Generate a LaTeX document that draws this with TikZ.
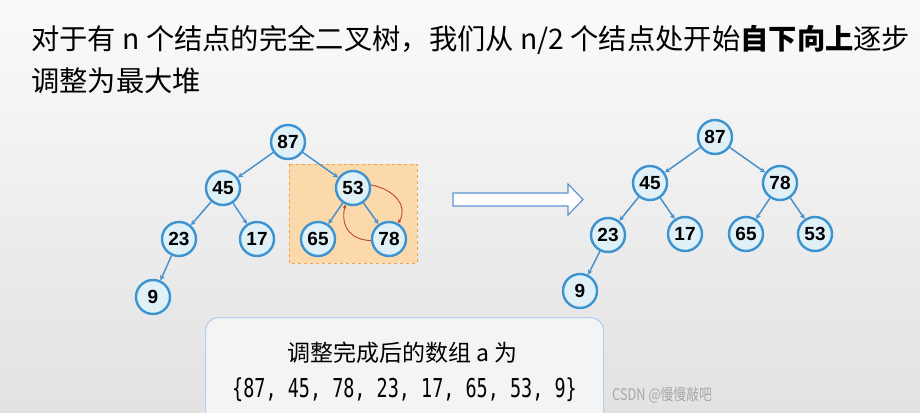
\documentclass[tikz,border=0pt]{standalone}
\usepackage{fontspec}
\usepackage{graphicx}
\setmainfont{Liberation Sans}
\newfontfamily\cjk{Noto Sans CJK SC}
\newfontfamily\monof{DejaVu Sans Mono}
\usetikzlibrary{arrows.meta}
\definecolor{nodeblue}{HTML}{3D93CF}
\definecolor{nodefill}{HTML}{DFF1F7}
\definecolor{edgeblue}{HTML}{4A92CC}
\definecolor{swapred}{HTML}{B8433A}
\definecolor{hlfill}{HTML}{FCD9AA}
\definecolor{hldraw}{HTML}{F0A448}
\definecolor{boxfill}{HTML}{F4F4F4}
\definecolor{boxdraw}{HTML}{B5D0EE}
\definecolor{arrowdraw}{HTML}{5F93D2}
\definecolor{bgtop}{HTML}{FAFAFA}
\definecolor{bgbot}{HTML}{E2E2E2}
\definecolor{wmgray}{HTML}{A8A8A8}
\begin{document}
\begin{tikzpicture}[x=1pt,y=-1pt,
  tnode/.style={circle,draw=nodeblue,fill=nodefill,line width=2.4pt,minimum size=34pt,inner sep=0pt,font=\fontsize{19}{19}\selectfont\bfseries},
  tedge/.style={draw=edgeblue,line width=1.5pt,-{Stealth[length=5pt,width=5pt]}},
  swaparrow/.style={draw=swapred,line width=0.9pt,-{Stealth[length=4pt,width=3.5pt]}},
  hlbox/.style={draw=hldraw,fill=hlfill,dashed,line width=0.9pt},
  title/.style={anchor=base west,inner sep=0pt,font=\cjk\fontsize{28.3}{28.3}\selectfont}]
\useasboundingbox (0,0) rectangle (920,412);
\clip (0,0) rectangle (920,412);
\shade[top color=bgtop,bottom color=bgbot] (0,0) rectangle (920,412);

% title
\node[title] (t1) at (31,50) {对于有 n 个结点的完全二叉树，我们从 n/2 个结点处开始{\bfseries 自下向上}逐步};
\node[title] (t2) at (31,91) {调整为最大堆};

% highlight box
\draw[hlbox] (289,164) rectangle (417,263);

% left tree
\node[tnode] (a87) at (288,142) {87};
\node[tnode] (a45) at (223,188) {45};
\node[tnode] (a53) at (353,188) {53};
\node[tnode] (a23) at (179,239) {23};
\node[tnode] (a17) at (257,239) {17};
\node[tnode] (a65) at (318,239) {65};
\node[tnode] (a78) at (389,239) {78};
\node[tnode] (a9) at (153,297) {9};
\draw[tedge] (a87) -- (a45);
\draw[tedge] (a87) -- (a53);
\draw[tedge] (a45) -- (a23);
\draw[tedge] (a45) -- (a17);
\draw[tedge] (a53) -- (a65);
\draw[tedge] (a53) -- (a78);
\draw[tedge] (a23) -- (a9);
\draw[swaparrow] (a53.10) .. controls (396,190) and (408,207) .. (a78.60);
\draw[swaparrow] (a78.185) .. controls (352,240) and (340,228) .. (a53.245);

% hollow arrow
\draw[draw=arrowdraw,fill=white,line width=1.2pt,line join=miter]
  (453,193) -- (568,193) -- (568,184) -- (583,199.5) -- (568,215) -- (568,206) -- (453,206) -- cycle;

% right tree
\node[tnode] (b87) at (715,137) {87};
\node[tnode] (b45) at (650,183) {45};
\node[tnode] (b78) at (780,183) {78};
\node[tnode] (b23) at (608,235) {23};
\node[tnode] (b17) at (685,234) {17};
\node[tnode] (b65) at (746,234) {65};
\node[tnode] (b53) at (815,234) {53};
\node[tnode] (b9) at (580,291) {9};
\draw[tedge] (b87) -- (b45);
\draw[tedge] (b87) -- (b78);
\draw[tedge] (b45) -- (b23);
\draw[tedge] (b45) -- (b17);
\draw[tedge] (b78) -- (b65);
\draw[tedge] (b78) -- (b53);
\draw[tedge] (b23) -- (b9);

% result box
\node[draw=boxdraw,fill=boxfill,rounded corners=13pt,line width=1.2pt,minimum width=398pt,minimum height=115pt,anchor=north west,inner sep=0pt] (res) at (205,317) {};
\node[anchor=base,inner sep=0pt,font=\cjk\fontsize{23}{23}\selectfont] (r1) at (402.5,361) {调整完成后的数组 a 为};
\node[anchor=base,inner sep=0pt,font=\monof\fontsize{26}{26}\selectfont] (r2) at (404.5,397) {\scalebox{0.71}[1]{\{87, 45, 78, 23, 17, 65, 53, 9\}}};

% watermark
\node[anchor=base west,inner sep=0pt,text=wmgray,font=\cjk\fontsize{16}{16}\selectfont] (wm) at (612,400) {\scalebox{0.8}[1]{CSDN @慢慢敲吧}};
\end{tikzpicture}
\end{document}
